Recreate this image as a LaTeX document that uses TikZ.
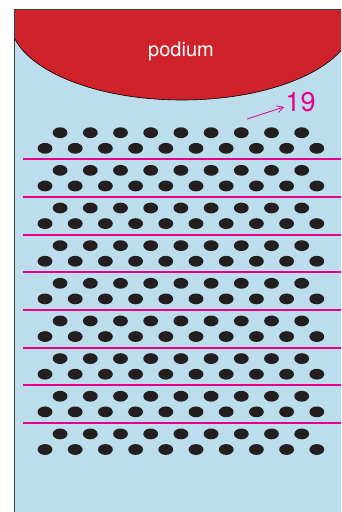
\documentclass[tikz,border=0pt]{standalone}
\usepackage{fontspec}
\setmainfont{TeX Gyre Heros}
\usetikzlibrary{arrows.meta}
\definecolor{hallblue}{RGB}{187,221,236}
\definecolor{podiumred}{RGB}{207,34,42}
\definecolor{rowpink}{RGB}{231,0,139}
\definecolor{wallgray}{RGB}{64,64,64}
\definecolor{seatblack}{RGB}{35,31,32}

\begin{document}
\begin{tikzpicture}[x=1pt,y=-1pt,
        seat/.style={fill=seatblack},
        aisle/.style={rowpink,line width=2pt}]
        \useasboundingbox (0,0) rectangle (341,512);
        \fill[hallblue] (14.7,9.3) rectangle (341,512);
        \begin{scope}
            \clip (14.7,9.3) rectangle (341,512);
            \draw[fill=podiumred,line width=.6pt] (182,20) ellipse[x radius=172,y radius=80];
        \end{scope}
        \node[text=white,font=\fontsize{20}{24}\selectfont] (podium) at (181,51) {podium};
        % seats, two staggered rows per block
        \foreach \r in {0,...,8}{
            \foreach \i in {0,...,8}
                \fill[seat] (60.1+30.2*\i,132.7+37.65*\r) ellipse[x radius=7.4,y radius=5.4];
            \foreach \i in {0,...,9}
                \fill[seat] (45+30.2*\i,148.3+37.65*\r) ellipse[x radius=7.4,y radius=5.4];
        }
        \foreach \r in {0,...,7}
            \draw[aisle] (23,159.3+37.65*\r)--(341,159.3+37.65*\r);
        \draw[wallgray,line width=1.4pt] (14.7,512)--(14.7,9.3)--(341,9.3);
        \node[text=rowpink,font=\fontsize{27}{30}\selectfont,inner sep=0pt] (rownum) at (300.5,102) {19};
        \coordinate (tail) at (247,119);
        \coordinate (tip) at (284,107);
        \draw[rowpink,line width=.8pt,-{Straight Barb[length=6pt,width=7pt]}] (tail)--(tip);
    \end{tikzpicture}
\end{document}
